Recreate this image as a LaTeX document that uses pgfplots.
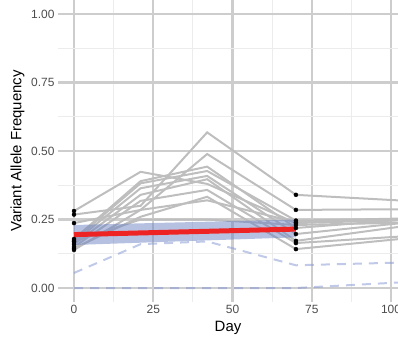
\documentclass[border=0pt]{standalone}
\usepackage{pgfplots}
\pgfplotsset{compat=1.18}
\usepackage{fontspec}
\setmainfont{Liberation Sans}
\definecolor{gridmaj}{RGB}{205,205,205}
\definecolor{gridmin}{RGB}{236,236,236}
\definecolor{ticktext}{RGB}{77,77,77}
\definecolor{linegrey}{RGB}{190,190,190}
\definecolor{redline}{RGB}{238,36,36}
\definecolor{ribbon}{RGB}{110,132,195}
\definecolor{dashblue}{RGB}{130,150,210}
\begin{document}
\begin{tikzpicture}
\begin{axis}[
  scale only axis, width=340bp, height=302bp,
  xmin=-5.05, xmax=102.2, ymin=-0.051, ymax=1.051,
  axis line style={draw=none},
  major tick length=0pt, minor tick length=0pt,
  xtick={0,25,50,75,100}, minor xtick={12.5,37.5,62.5,87.5},
  ytick={0,0.25,0.5,0.75,1}, yticklabels={0.00,0.25,0.50,0.75,1.00},
  minor ytick={0.125,0.375,0.625,0.875},
  grid=both,
  major grid style={draw=gridmaj, line width=2.1bp},
  minor grid style={draw=gridmin, line width=1bp},
  tick label style={font=\fontsize{12}{14}\selectfont, text=ticktext},
  /pgf/number format/assume math mode=true,
  xlabel={Day}, ylabel={Variant Allele Frequency},
  label style={font=\fontsize{15}{18}\selectfont, text=black},
  clip=true,
]
% patient trajectories
\addplot[linegrey, line width=2bp] coordinates {(0,0.281) (21,0.424) (42,0.38) (70,0.237) (110,0.25)};
\addplot[linegrey, line width=2bp] coordinates {(0,0.268) (21,0.30) (42,0.568) (70,0.34) (110,0.315)};
\addplot[linegrey, line width=2bp] coordinates {(0,0.237) (21,0.285) (42,0.489) (70,0.285) (110,0.288)};
\addplot[linegrey, line width=2bp] coordinates {(0,0.179) (21,0.39) (42,0.443) (70,0.219) (110,0.255)};
\addplot[linegrey, line width=2bp] coordinates {(0,0.175) (21,0.382) (42,0.427) (70,0.246) (110,0.255)};
\addplot[linegrey, line width=2bp] coordinates {(0,0.168) (21,0.364) (42,0.409) (70,0.197) (110,0.245)};
\addplot[linegrey, line width=2bp] coordinates {(0,0.16) (21,0.34) (42,0.397) (70,0.172) (110,0.235)};
\addplot[linegrey, line width=2bp] coordinates {(0,0.15) (21,0.318) (42,0.358) (70,0.164) (110,0.193)};
\addplot[linegrey, line width=2bp] coordinates {(0,0.145) (21,0.26) (42,0.333) (70,0.142) (110,0.187)};
\addplot[linegrey, line width=2bp] coordinates {(0,0.139) (21,0.285) (42,0.32) (70,0.24) (110,0.25)};
\addplot[linegrey, line width=2bp] coordinates {(0,0.17) (21,0.25) (42,0.25) (70,0.23) (110,0.24)};
% dashed bounds
\addplot[dashblue, opacity=0.5, line width=2bp, dash pattern=on 9bp off 7bp] coordinates {(0,0.055) (21,0.16) (42,0.17) (70,0.083) (110,0.095)};
\addplot[dashblue, opacity=0.5, line width=2bp, dash pattern=on 9bp off 7bp] coordinates {(0,0) (70,0) (110,0.025)};
% ribbon
\addplot[fill=ribbon, fill opacity=0.5, draw=none] coordinates {(0,0.157) (70,0.185) (70,0.25) (0,0.23)} -- cycle;
% mean line
\addplot[redline, line width=5bp] coordinates {(0,0.195) (70,0.215)};
% observed points
\addplot[only marks, mark=*, mark size=2bp, black] coordinates {
(0,0.281) (0,0.268) (0,0.237) (0,0.179) (0,0.175) (0,0.168) (0,0.16) (0,0.15) (0,0.145) (0,0.139) (0,0.17)
(70,0.34) (70,0.285) (70,0.246) (70,0.24) (70,0.237) (70,0.23) (70,0.219) (70,0.197) (70,0.172) (70,0.164) (70,0.142)};
\end{axis}
\pgfresetboundingbox
\path[use as bounding box] ([xshift=-58bp,yshift=-37bp]current axis.south west) rectangle (current axis.north east);
\end{tikzpicture}
\end{document}
